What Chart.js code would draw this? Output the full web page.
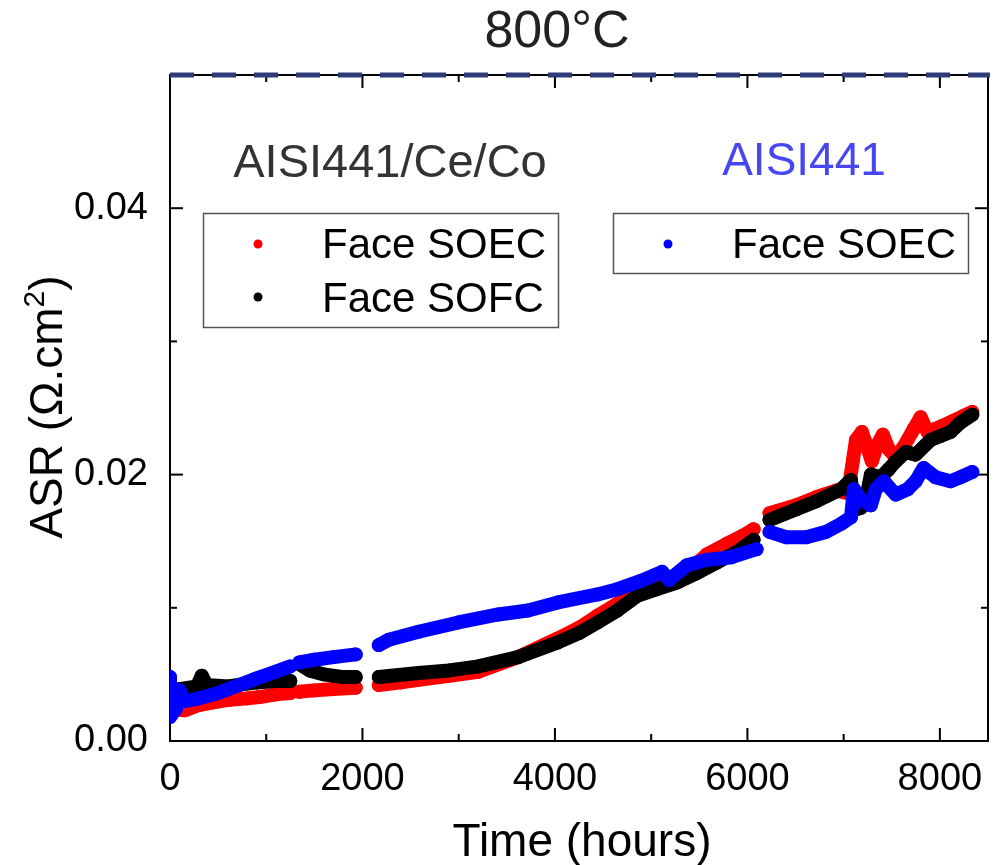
<!DOCTYPE html>
<html>
<head>
<meta charset="utf-8">
<script src="https://cdn.jsdelivr.net/npm/chart.js@4.4.1/dist/chart.umd.min.js"></script>
<style>
  body { margin: 0; background: #fff; }
  #contenedor { width: 995px; height: 865px; position: relative; }
</style>
</head>
<body>
<div id="contenedor"><canvas id="graficaASR"></canvas></div>
<script>
// Valores (horas, ASR en ohm.cm2); null = corte en el registro
const horasCeCoSoec = [0, 150, 300, 450, 620, 800, 930, 1100, 1250, 1300,
  1340, 1500, 1700, 1930, 2050,
  2170, 2400, 2583, 2900, 3203, 3617, 4030, 4250, 4442, 4649, 4959, 5165, 5300, 5424, 5578, 5785, 5950, 6064, 6150,
  6230, 6508, 6715, 6921, 7045, 7097, 7128, 7190, 7252, 7293, 7355, 7407, 7469, 7541, 7624, 7727, 7800, 7872, 8006, 8130, 8244, 8337];
const asrCeCoSoec = [0.0024, 0.0023, 0.0027, 0.0029, 0.0031, 0.0032, 0.0033, 0.0035, 0.0036, null,
  0.0037, 0.0038, 0.0039, 0.0040, null,
  0.0042, 0.0044, 0.0046, 0.0049, 0.0052, 0.0063, 0.0077, 0.0085, 0.0094, 0.0103, 0.0113, 0.0117, 0.0120, 0.0130, 0.0140, 0.0148, 0.0154, 0.0159, null,
  0.0171, 0.0177, 0.0183, 0.0188, 0.0186, 0.0211, 0.0226, 0.0232, 0.0219, 0.0210, 0.0223, 0.0230, 0.0219, 0.0213, 0.0221, 0.0234, 0.0243, 0.0232, 0.0236, 0.0240, 0.0244, 0.0247];

const horasCeCoSofc = [0, 0, 100, 280, 330, 380, 600, 900, 1100, 1250, 1300,
  1340, 1450, 1600, 1800, 1930, 2050,
  2170, 2583, 2900, 3203, 3617, 4030, 4250, 4442, 4649, 4855, 5060, 5268, 5475, 5682, 5888, 6064, 6150,
  6230, 6508, 6715, 6973, 7076, 7097, 7128, 7180, 7231, 7283, 7386, 7469, 7541, 7645, 7748, 7903, 8006, 8110, 8213, 8337];
const asrCeCoSofc = [0.0041, 0.0034, 0.0039, 0.0041, 0.0049, 0.0042, 0.0041, 0.0044, 0.0045, 0.0045, null,
  0.0058, 0.0053, 0.0050, 0.0048, 0.0048, null,
  0.0048, 0.0051, 0.0053, 0.0056, 0.0063, 0.0074, 0.0081, 0.0089, 0.0098, 0.0109, 0.0114, 0.0119, 0.0126, 0.0134, 0.0142, 0.0151, null,
  0.0166, 0.0174, 0.0180, 0.0189, 0.0196, 0.0181, 0.0174, 0.0175, 0.0181, 0.0200, 0.0198, 0.0204, 0.0210, 0.0217, 0.0215, 0.0226, 0.0229, 0.0232, 0.0239, 0.0245];

const horasAisiSoec = [0, 0, 60, 100, 150, 300, 500, 720, 900, 1100, 1250, 1300,
  1343, 1500, 1700, 1930, 2050,
  2170, 2273, 2583, 2996, 3410, 3720, 4030, 4442, 4650, 4886, 5113, 5186, 5372, 5578, 5836, 6095, 6150,
  6230, 6405, 6611, 6818, 6973, 7076, 7107, 7180, 7283, 7334, 7417, 7541, 7665, 7748, 7831, 7955, 8110, 8213, 8337];
const asrAisiSoec = [0.0048, 0.0018, 0.0024, 0.0038, 0.0030, 0.0032, 0.0036, 0.0042, 0.0047, 0.0052, 0.0056, null,
  0.0059, 0.0061, 0.0063, 0.0065, null,
  0.0072, 0.0076, 0.0082, 0.0089, 0.0095, 0.0098, 0.0104, 0.0110, 0.0114, 0.0120, 0.0127, 0.0121, 0.0132, 0.0136, 0.0138, 0.0144, null,
  0.0157, 0.0153, 0.0153, 0.0157, 0.0163, 0.0168, 0.0189, 0.0181, 0.0177, 0.0189, 0.0195, 0.0185, 0.0189, 0.0195, 0.0205, 0.0198, 0.0195, 0.0198, 0.0202];

// Marcas de los ejes
const xTicks = [0, 2000, 4000, 6000, 8000];
const xMinorTicks = [1000, 3000, 5000, 7000];
const yTicks = [0, 0.02, 0.04];
const yMinorTicks = [0.01, 0.03, 0.05];

const titulo = '800°C';
const tituloX = 'Time (hours)';
const tituloY = 'ASR (Ω.cm';
const grupoCeCo = 'AISI441/Ce/Co';
const grupoAisi = 'AISI441';
const leyendaSoec = 'Face SOEC';
const leyendaSofc = 'Face SOFC';

const FUENTE = '"Liberation Sans", Arial, sans-serif';
const ROJO = '#ff0000';
const NEGRO = '#000000';
const AZUL = '#0000ff';

function serie(etiqueta, horas, asr, color, orden) {
  return {
    label: etiqueta,
    data: horas.map((h, i) => ({ x: h, y: asr[i] })),
    borderColor: color,
    backgroundColor: color,
    borderWidth: 14,
    borderCapStyle: 'round',
    borderJoinStyle: 'round',
    pointRadius: 7,
    pointBorderWidth: 0,
    pointHoverRadius: 7,
    tension: 0,
    spanGaps: false,
    order: orden
  };
}

// Marco con ticks hacia dentro, linea discontinua arriba y textos
const marcoPlugin = {
  id: 'marco',
  beforeDatasetsDraw(chart) {
    const { ctx, chartArea: a, scales: { x, y } } = chart;
    ctx.save();
    ctx.strokeStyle = '#000';
    ctx.lineWidth = 2;
    ctx.strokeRect(a.left, a.top, a.right - a.left, a.bottom - a.top);
    const tick = (x1, y1, x2, y2) => { ctx.beginPath(); ctx.moveTo(x1, y1); ctx.lineTo(x2, y2); ctx.stroke(); };
    xTicks.concat(xMinorTicks).forEach(v => {
      const px = x.getPixelForValue(v);
      const len = xTicks.includes(v) ? 13 : 7;
      tick(px, a.bottom, px, a.bottom - len);
      tick(px, a.top, px, a.top + len);
    });
    yTicks.concat(yMinorTicks).forEach(v => {
      const py = y.getPixelForValue(v);
      const len = yTicks.includes(v) ? 13 : 7;
      tick(a.left, py, a.left + len, py);
      tick(a.right, py, a.right - len, py);
    });
    // linea discontinua superior
    ctx.strokeStyle = '#2e3d7a';
    ctx.lineWidth = 5;
    ctx.setLineDash([24, 18]);
    tick(a.left, a.top, a.right + 2, a.top);
    ctx.restore();
  },
  afterDraw(chart) {
    const { ctx } = chart;
    ctx.save();
    ctx.textBaseline = 'alphabetic';

    ctx.fillStyle = '#222';
    ctx.font = '52px ' + FUENTE;
    ctx.textAlign = 'center';
    ctx.fillText(titulo, 557, 47);

    ctx.fillStyle = '#000';
    ctx.font = '46px ' + FUENTE;
    ctx.fillText(tituloX, 582, 856);

    // titulo eje Y con superindice
    ctx.translate(62, 407);
    ctx.rotate(-Math.PI / 2);
    ctx.textAlign = 'left';
    const w1 = ctx.measureText(tituloY).width;
    ctx.font = '30px ' + FUENTE;
    const w2 = ctx.measureText('2').width;
    ctx.font = '46px ' + FUENTE;
    const w3 = ctx.measureText(')').width;
    const x0 = -(w1 + w2 + w3) / 2;
    ctx.fillText(tituloY, x0, 0);
    ctx.font = '30px ' + FUENTE;
    ctx.fillText('2', x0 + w1, -18);
    ctx.font = '46px ' + FUENTE;
    ctx.fillText(')', x0 + w1 + w2, 0);
    ctx.setTransform(1, 0, 0, 1, 0, 0);

    // rotulos de grupo
    ctx.textAlign = 'center';
    ctx.font = '47px ' + FUENTE;
    ctx.fillStyle = '#333';
    ctx.fillText(grupoCeCo, 390, 177);
    ctx.font = '46px ' + FUENTE;
    ctx.fillStyle = '#4646f2';
    ctx.fillText(grupoAisi, 804, 175);

    // leyendas
    ctx.strokeStyle = '#555';
    ctx.lineWidth = 1.5;
    ctx.strokeRect(203.5, 213.5, 355, 114);
    ctx.strokeRect(613.5, 213.5, 355, 60);
    const punto = (px, py, color) => {
      ctx.fillStyle = color;
      ctx.beginPath(); ctx.arc(px, py, 4.5, 0, Math.PI * 2); ctx.fill();
    };
    ctx.font = '42px ' + FUENTE;
    ctx.textAlign = 'left';
    punto(258, 244, ROJO);
    punto(258, 297, NEGRO);
    punto(668, 244, AZUL);
    ctx.fillStyle = '#000';
    ctx.fillText(leyendaSoec, 322, 258);
    ctx.fillText(leyendaSofc, 322, 312);
    ctx.fillText(leyendaSoec, 732, 258);
    ctx.restore();
  }
};

const ctx = document.getElementById('graficaASR').getContext('2d');
new Chart(ctx, {
  type: 'line',
  data: {
    datasets: [
      serie(leyendaSoec, horasAisiSoec, asrAisiSoec, AZUL, 1),
      serie(leyendaSofc, horasCeCoSofc, asrCeCoSofc, NEGRO, 2),
      serie(leyendaSoec, horasCeCoSoec, asrCeCoSoec, ROJO, 3)
    ]
  },
  options: {
    responsive: true,
    maintainAspectRatio: false,
    animation: false,
    layout: { padding: { top: 75, right: 2, left: 0, bottom: 0 } },
    plugins: { legend: { display: false }, tooltip: { enabled: false } },
    scales: {
      x: {
        type: 'linear',
        min: 0,
        max: 8500,
        grid: { display: false },
        border: { display: false },
        ticks: { color: '#000', font: { size: 38, family: FUENTE }, padding: 8, maxRotation: 0, callback: v => String(v) },
        afterBuildTicks: s => { s.ticks = xTicks.map(v => ({ value: v })); },
        afterFit: s => { s.height = 124; }
      },
      y: {
        type: 'linear',
        min: 0,
        max: 0.05,
        grid: { display: false },
        border: { display: false },
        ticks: { color: '#000', font: { size: 38, family: FUENTE }, padding: 14, callback: v => v.toFixed(2) },
        afterBuildTicks: s => { s.ticks = yTicks.map(v => ({ value: v })); },
        afterFit: s => { s.width = 170; }
      }
    }
  },
  plugins: [marcoPlugin]
});
</script>
</body>
</html>
